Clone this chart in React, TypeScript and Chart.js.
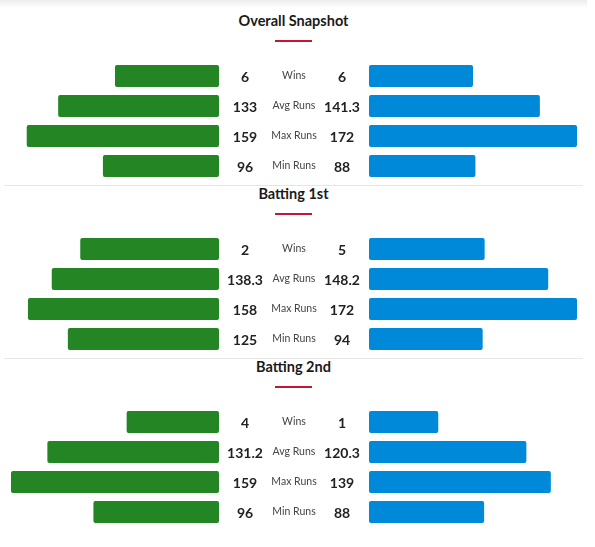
import React, { useEffect, useRef } from "react";
import { Chart, registerables } from "chart.js";

Chart.register(...registerables);

document.body.style.margin = "0";

const sectionTitles = ["Overall Snapshot", "Batting 1st", "Batting 2nd"];
const statLabels = ["Wins", "Avg Runs", "Max Runs", "Min Runs"];

// shown numbers, per section: wins, avg, max, min
const teamAStats = [
  [6, 133, 159, 96],
  [2, 138.3, 158, 125],
  [4, 131.2, 159, 96],
];
const teamBStats = [
  [6, 141.3, 172, 88],
  [5, 148.2, 172, 94],
  [1, 120.3, 139, 88],
];
// win rows are drawn as win percentage
const teamAWinPct = [50, 66.7, 44.4];
const teamBWinPct = [50, 55.6, 33.3];

const GREEN = "#238523";
const BLUE = "#0089d9";
const FONT = "Lato, 'Open Sans', sans-serif";

interface SectionProps {
  index: number;
}

const SectionChart: React.FC<SectionProps> = ({ index }) => {
  const chartRef = useRef<HTMLCanvasElement | null>(null);
  const chartInstance = useRef<Chart | null>(null);

  useEffect(() => {
    const ctx = chartRef.current?.getContext("2d");
    if (!ctx) return;
    if (chartInstance.current) chartInstance.current.destroy();

    const a = teamAStats[index];
    const b = teamBStats[index];
    const runsMax = Math.max(a[2], b[2]);
    const share = (vals: number[], winPct: number) =>
      vals.map((v, i) => (i === 0 ? winPct / 100 : v / runsMax));

    const middleText = {
      id: "middleText",
      afterDraw(chart: Chart) {
        const c = chart.ctx;
        const y = chart.scales.y;
        const mid = chart.scales.xM;
        c.save();
        c.textBaseline = "middle";
        c.textAlign = "center";
        statLabels.forEach((label, i) => {
          const py = y.getPixelForValue(i);
          c.fillStyle = "#222";
          c.font = `bold 14px ${FONT}`;
          c.fillText(String(a[i]), mid.left + 26, py + 1);
          c.fillText(String(b[i]), mid.right - 27, py + 1);
          c.fillStyle = "#444";
          c.font = `10.5px ${FONT}`;
          c.fillText(label, (mid.left + mid.right) / 2, py);
        });
        c.restore();
      },
    };

    chartInstance.current = new Chart(ctx, {
      type: "bar",
      data: {
        labels: statLabels,
        datasets: [
          {
            label: "Team A",
            data: share(a, teamAWinPct[index]),
            backgroundColor: GREEN,
            xAxisID: "xL",
          },
          {
            label: "Team B",
            data: share(b, teamBWinPct[index]),
            backgroundColor: BLUE,
            xAxisID: "xR",
          },
        ],
      },
      options: {
        indexAxis: "y",
        animation: false,
        responsive: true,
        maintainAspectRatio: false,
        layout: { padding: 0 },
        datasets: {
          bar: {
            grouped: false,
            categoryPercentage: 1,
            barPercentage: 0.74,
            borderRadius: 2,
            borderSkipped: false,
          },
        },
        scales: {
          xL: { type: "linear", position: "bottom", stack: "row", stackWeight: 208, min: 0, max: 1, reverse: true, display: false },
          xM: { type: "linear", position: "bottom", stack: "row", stackWeight: 150, min: 0, max: 1, display: false },
          xR: { type: "linear", position: "bottom", stack: "row", stackWeight: 208, min: 0, max: 1, display: false },
          y: { type: "category", display: false },
        },
        plugins: {
          legend: { display: false },
          tooltip: { enabled: false },
        },
      },
      plugins: [middleText],
    });

    return () => {
      if (chartInstance.current) {
        chartInstance.current.destroy();
        chartInstance.current = null;
      }
    };
  }, [index]);

  return (
    <div style={{ position: "absolute", top: 49, left: 11, width: 566, height: 120 }}>
      <canvas ref={chartRef}></canvas>
    </div>
  );
};

const App: React.FC = () => {
  return (
    <div
      style={{
        width: 587,
        paddingTop: 12,
        fontFamily: FONT,
        background: "linear-gradient(#ececec 0px, #fff 8px)",
      }}
    >
      {sectionTitles.map((title, i) => (
        <div key={title} style={{ position: "relative", height: 173 }}>
          <div
            style={{
              position: "absolute",
              top: 0,
              left: 0,
              right: 0,
              height: 18,
              lineHeight: "18px",
              textAlign: "center",
              fontWeight: 700,
              fontSize: 14.5,
              color: "#1a1a1a",
            }}
          >
            {title}
          </div>
          <div
            style={{
              position: "absolute",
              top: 28,
              left: 275,
              width: 37,
              height: 2,
              background: "#c3173a",
            }}
          />
          <SectionChart index={i} />
          {i < sectionTitles.length - 1 && (
            <div
              style={{
                position: "absolute",
                top: 173,
                left: 4,
                right: 4,
                height: 1,
                background: "#e6e6e6",
              }}
            />
          )}
        </div>
      ))}
    </div>
  );
};

export default App;
